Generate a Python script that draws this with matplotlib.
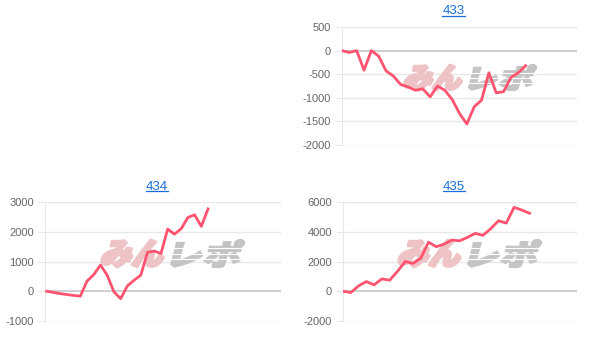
import matplotlib.pyplot as plt
from matplotlib.textpath import TextPath
from matplotlib.patches import PathPatch
from matplotlib.font_manager import FontProperties
from matplotlib.transforms import Affine2D
from matplotlib.lines import Line2D

# data
titles = ["433", "434", "435"]

values_433 = [0, -40, 0, -415, 0, -120, -430, -540, -720, -770, -840, -810, -980,
              -750, -840, -1035, -1330, -1555, -1190, -1050, -470, -895, -870,
              -570, -470, -320]
values_434 = [0, -40, -80, -110, -140, -165, 340, 560, 880, 540, -20, -250, 180,
              370, 540, 1310, 1350, 1270, 2090, 1920, 2100, 2480, 2570, 2180, 2770]
values_435 = [0, -90, 360, 650, 430, 830, 740, 1330, 2000, 1870, 2220, 3300, 2990,
              3170, 3440, 3390, 3620, 3890, 3760, 4200, 4740, 4580, 5640, 5460, 5240]

yticks_433 = [500, 0, -500, -1000, -1500, -2000]
yticks_434 = [3000, 2000, 1000, 0, -1000]
yticks_435 = [6000, 4000, 2000, 0, -2000]

LINE = "#ff5470"
GRID = "#e8e8e8"
W, H = 605, 349

plt.rcParams["font.family"] = ["Liberation Sans", "DejaVu Sans"]
fig = plt.figure(figsize=(W / 100, H / 100), dpi=100)


def px_axes(x0, y0, x1, y1):
    return fig.add_axes([x0 / W, 1 - y1 / H, (x1 - x0) / W, (y1 - y0) / H])


def watermark(ax, x0, y0, x1, y1):
    # x0..x1 / y0..y1 in figure pixels (y from top)
    fp = FontProperties(family="Noto Sans CJK JP", weight="heavy")
    mid = x0 + (x1 - x0) * 0.47
    parts = [("みん", x0, mid, "#eec3c6", 2.2), ("レポ", mid + 2, x1, "#c4c4c4", 1.6)]
    h = y1 - y0
    for txt, a, b, col, ew in parts:
        tp = TextPath((0, 0), txt, size=1, prop=fp)
        ext = tp.get_extents()
        tw = (b - a) - h * 0.27
        tr = (Affine2D().translate(-ext.x0, -ext.y0)
              .scale(tw / ext.width, h / ext.height)
              .skew_deg(15, 0)
              .translate(a, H - y1)
              .scale(1 / 100) + fig.dpi_scale_trans)
        p = PathPatch(tp, transform=tr, facecolor=col, edgecolor=col, lw=ew,
                      joinstyle="round", zorder=1.5, clip_on=False)
        ax.add_patch(p)
    # white speed stripes through the grey half
    for f in (0.3, 0.5, 0.7):
        yy = (H - y0 - f * h) / H
        ax.add_line(Line2D([(mid + 2) / W, (x1 + 2) / W], [yy, yy], color="white",
                           lw=0.8, transform=fig.transFigure, zorder=1.6))


def panel(box, vals, ticks, xmax, x_first, title, title_xy):
    ax = px_axes(*box)
    x = [x_first + i for i in range(len(vals))]
    ax.set_ylim(min(ticks), max(ticks))
    ax.set_xlim(0, xmax)
    ax.set_yticks(ticks)
    ax.set_yticklabels([str(t) for t in ticks])
    for t in ticks:
        ax.axhline(t, color="#cccccc" if t == 0 else GRID,
                   lw=1.3 if t == 0 else 1.0, zorder=1)
    watermark(ax, *wm_boxes[title])
    ax.plot(x, vals, color=LINE, lw=2.0, zorder=3, solid_joinstyle="round")
    ax.set_xticks([])
    for s in ["top", "right", "bottom"]:
        ax.spines[s].set_visible(False)
    ax.spines["left"].set_color(GRID)
    ax.tick_params(axis="y", length=5, color=GRID, labelcolor="#666666",
                   labelsize=8, pad=3)
    ax.set_facecolor("none")
    ax.set_xlim(0, xmax)
    ax.set_ylim(min(ticks), max(ticks))
    t = fig.text(title_xy[0] / W, 1 - title_xy[1] / H, title, fontsize=9.5,
                 color="#1a6ed8", ha="center", va="center")
    return ax, t


wm_boxes = {
    "433": (403, 65, 537, 90),
    "434": (100, 240, 245, 267),
    "435": (397, 240, 542, 267),
}

a1, t1 = panel((342, 27, 577, 145), values_433, yticks_433, 32.0, 0, titles[0], (453.5, 11))
a2, t2 = panel((45, 202, 281, 321), values_434, yticks_434, 35.1, 0.25, titles[1], (157, 186.5))
a3, t3 = panel((343, 202, 577, 321), values_435, yticks_435, 30.1, 0, titles[2], (454, 186.5))

# underline the titles
fig.canvas.draw()
for t in (t1, t2, t3):
    bb = t.get_window_extent()
    yy = bb.y0 + 1.5
    fig.add_artist(Line2D([bb.x0 / W, bb.x1 / W], [yy / H, yy / H],
                          color="#1a6ed8", lw=0.9, transform=fig.transFigure))

fig.savefig("out.png", dpi=100)
